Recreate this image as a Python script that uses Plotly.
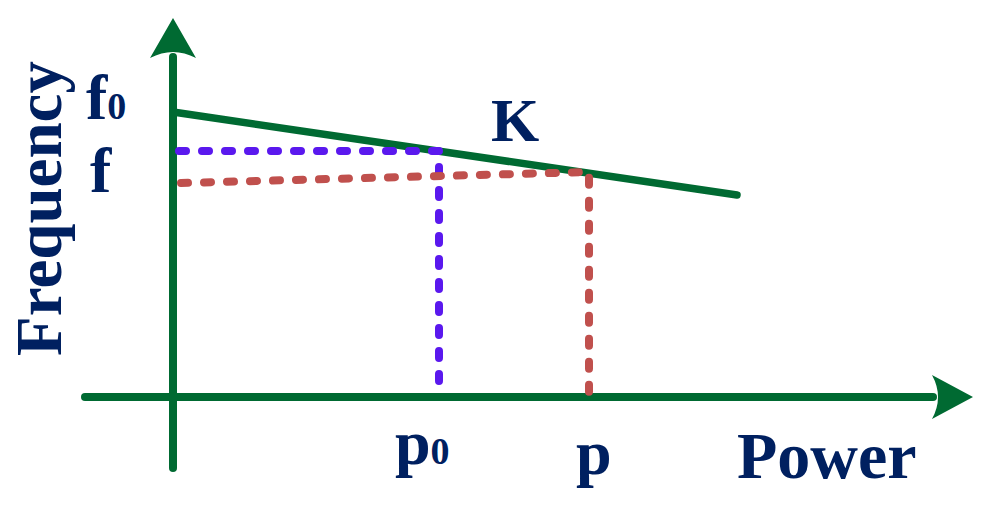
import plotly.graph_objects as go

# Diagram values (origin at the crossing of the axes)
power_labels = ["<b>p<span style='font-size:38px'>0</span></b>", "<b>p</b>"]
power_values = [266, 416]            # p0, p
freq_labels = ["<b>f<span style='font-size:38px'>0</span></b>", "<b>f</b>"]
line_power = [0, 564]                # droop line K
line_freq = [285, 202]
blue_freq = [246, 246]               # f at p0 (horizontal part)
red_freq = [214, 225]                # f at p (left end, right end)
line_label = "<b>K</b>"
x_title = "<b>Power</b>"
y_title = "<b>Frequency</b>"

GREEN = "#006a32"
NAVY = "#002060"
BLUE = "#5a18ee"
RED = "#c0504d"
FONT = "Liberation Serif"

X_MIN, X_MAX = -173, 811
Y_MIN, Y_MAX = -115, 397

fig = go.Figure()

# axes lines
ax_x0, ax_x1 = -88, 760
ax_y0, ax_y1 = -71, 340
fig.add_trace(go.Scatter(x=[ax_x0, ax_x1], y=[0, 0], mode="lines",
                         line=dict(color=GREEN, width=8), hoverinfo="skip"))
fig.add_trace(go.Scatter(x=[0, 0], y=[ax_y0, ax_y1], mode="lines",
                         line=dict(color=GREEN, width=8), hoverinfo="skip"))

# droop line
fig.add_trace(go.Scatter(x=line_power, y=line_freq, mode="lines",
                         line=dict(color=GREEN, width=7.5), hoverinfo="skip"))

# blue dashed (p0 -> f0 side)
fig.add_trace(go.Scatter(x=[6, power_values[0], power_values[0]],
                         y=[blue_freq[0], blue_freq[1], 0], mode="lines",
                         line=dict(color=BLUE, width=8, dash="7px,16px"),
                         hoverinfo="skip"))
# red dashed
fig.add_trace(go.Scatter(x=[8, power_values[1], power_values[1]],
                         y=[red_freq[0], red_freq[1], 0], mode="lines",
                         line=dict(color=RED, width=8, dash="7px,16px"),
                         hoverinfo="skip"))

# arrowheads
tip_y, base_y, notch_y, hw = 379, 339, 351, 23
tip_x, base_x, notch_x, hh = 800, 759, 771, 22
fig.add_shape(type="path",
              path=f"M 0,{tip_y} L {hw},{base_y} Q 0,{notch_y} {-hw},{base_y} Z",
              fillcolor=GREEN, line=dict(width=0))
fig.add_shape(type="path",
              path=f"M {tip_x},0 L {base_x},{hh} Q {notch_x},0 {base_x},{-hh} Z",
              fillcolor=GREEN, line=dict(width=0))

def label(text, x, y, size=64, angle=0):
    fig.add_annotation(x=x, y=y, text=text, showarrow=False, textangle=angle,
                       xanchor="center", yanchor="middle",
                       font=dict(family=FONT, size=size, color=NAVY))

label(freq_labels[0], -67, 300)
label(freq_labels[1], -72, 227)
label(line_label, 342, 277, size=62)
label(power_labels[0], power_values[0] - 17, -45)
label(power_labels[1], power_values[1] + 5, -55)
label(x_title, 654, -58, size=66)
label(y_title, -134, 188, size=65, angle=-90)

fig.update_layout(
    width=984, height=512,
    margin=dict(l=0, r=0, t=0, b=0),
    paper_bgcolor="white", plot_bgcolor="white",
    showlegend=False,
    xaxis=dict(range=[X_MIN, X_MAX], visible=False, fixedrange=True),
    yaxis=dict(range=[Y_MIN, Y_MAX], visible=False, fixedrange=True),
)

post = (
    "document.body.style.margin='0';"
    "document.querySelectorAll('path.js-line').forEach(function(p){"
    "p.style.strokeLinecap='round';p.style.strokeLinejoin='round';});"
)
fig.write_html("out.html", post_script=post, config={"displayModeBar": False})
